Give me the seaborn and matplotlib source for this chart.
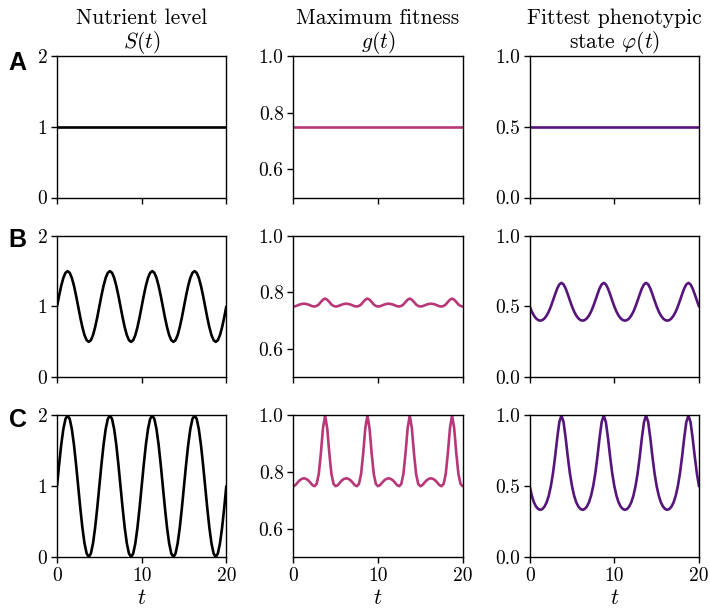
import matplotlib
matplotlib.use('Agg')
import matplotlib.pyplot as plt
import seaborn as sns

# sample times (step 0.25)
t = [0.0, 0.25, 0.5, 0.75, 1.0, 1.25, 1.5, 1.75, 2.0, 2.25, 2.5, 2.75, 3.0, 3.25, 3.5, 3.75, 4.0, 4.25, 4.5, 4.75,
     5.0, 5.25, 5.5, 5.75, 6.0, 6.25, 6.5, 6.75, 7.0, 7.25, 7.5, 7.75, 8.0, 8.25, 8.5, 8.75, 9.0, 9.25, 9.5, 9.75,
     10.0, 10.25, 10.5, 10.75, 11.0, 11.25, 11.5, 11.75, 12.0, 12.25, 12.5, 12.75, 13.0, 13.25, 13.5, 13.75, 14.0, 14.25, 14.5, 14.75,
     15.0, 15.25, 15.5, 15.75, 16.0, 16.25, 16.5, 16.75, 17.0, 17.25, 17.5, 17.75, 18.0, 18.25, 18.5, 18.75, 19.0, 19.25, 19.5, 19.75,
     20.0]

# row A: constant environment
S_A = [1.0] * len(t)
g_A = [0.75] * len(t)
phi_A = [0.5] * len(t)

# row B: mild oscillation
S_B = [1.0, 1.155, 1.294, 1.405, 1.476, 1.5, 1.476, 1.405, 1.294, 1.155, 1.0, 0.845, 0.706, 0.595, 0.524, 0.5, 0.524, 0.595, 0.706, 0.845,
       1.0, 1.155, 1.294, 1.405, 1.476, 1.5, 1.476, 1.405, 1.294, 1.155, 1.0, 0.845, 0.706, 0.595, 0.524, 0.5, 0.524, 0.595, 0.706, 0.845,
       1.0, 1.155, 1.294, 1.405, 1.476, 1.5, 1.476, 1.405, 1.294, 1.155, 1.0, 0.845, 0.706, 0.595, 0.524, 0.5, 0.524, 0.595, 0.706, 0.845,
       1.0, 1.155, 1.294, 1.405, 1.476, 1.5, 1.476, 1.405, 1.294, 1.155, 1.0, 0.845, 0.706, 0.595, 0.524, 0.5, 0.524, 0.595, 0.706, 0.845,
       1.0]
g_B = [0.75, 0.751, 0.754, 0.757, 0.759, 0.76, 0.759, 0.757, 0.754, 0.751, 0.75, 0.752, 0.757, 0.766, 0.774, 0.778, 0.774, 0.766, 0.757, 0.752,
       0.75, 0.751, 0.754, 0.757, 0.759, 0.76, 0.759, 0.757, 0.754, 0.751, 0.75, 0.752, 0.757, 0.766, 0.774, 0.778, 0.774, 0.766, 0.757, 0.752,
       0.75, 0.751, 0.754, 0.757, 0.759, 0.76, 0.759, 0.757, 0.754, 0.751, 0.75, 0.752, 0.757, 0.766, 0.774, 0.778, 0.774, 0.766, 0.757, 0.752,
       0.75, 0.751, 0.754, 0.757, 0.759, 0.76, 0.759, 0.757, 0.754, 0.751, 0.75, 0.752, 0.757, 0.766, 0.774, 0.778, 0.774, 0.766, 0.757, 0.752,
       0.75]
phi_B = [0.5, 0.464, 0.436, 0.416, 0.404, 0.4, 0.404, 0.416, 0.436, 0.464, 0.5, 0.542, 0.586, 0.627, 0.656, 0.667, 0.656, 0.627, 0.586, 0.542,
         0.5, 0.464, 0.436, 0.416, 0.404, 0.4, 0.404, 0.416, 0.436, 0.464, 0.5, 0.542, 0.586, 0.627, 0.656, 0.667, 0.656, 0.627, 0.586, 0.542,
         0.5, 0.464, 0.436, 0.416, 0.404, 0.4, 0.404, 0.416, 0.436, 0.464, 0.5, 0.542, 0.586, 0.627, 0.656, 0.667, 0.656, 0.627, 0.586, 0.542,
         0.5, 0.464, 0.436, 0.416, 0.404, 0.4, 0.404, 0.416, 0.436, 0.464, 0.5, 0.542, 0.586, 0.627, 0.656, 0.667, 0.656, 0.627, 0.586, 0.542,
         0.5]

# row C: strong oscillation
S_C = [1.0, 1.309, 1.588, 1.809, 1.951, 2.0, 1.951, 1.809, 1.588, 1.309, 1.0, 0.691, 0.412, 0.191, 0.049, 0.0, 0.049, 0.191, 0.412, 0.691,
       1.0, 1.309, 1.588, 1.809, 1.951, 2.0, 1.951, 1.809, 1.588, 1.309, 1.0, 0.691, 0.412, 0.191, 0.049, 0.0, 0.049, 0.191, 0.412, 0.691,
       1.0, 1.309, 1.588, 1.809, 1.951, 2.0, 1.951, 1.809, 1.588, 1.309, 1.0, 0.691, 0.412, 0.191, 0.049, 0.0, 0.049, 0.191, 0.412, 0.691,
       1.0, 1.309, 1.588, 1.809, 1.951, 2.0, 1.951, 1.809, 1.588, 1.309, 1.0, 0.691, 0.412, 0.191, 0.049, 0.0, 0.049, 0.191, 0.412, 0.691,
       1.0]
g_C = [0.75, 0.754, 0.763, 0.771, 0.776, 0.778, 0.776, 0.771, 0.763, 0.754, 0.75, 0.758, 0.793, 0.866, 0.955, 1.0, 0.955, 0.866, 0.793, 0.758,
       0.75, 0.754, 0.763, 0.771, 0.776, 0.778, 0.776, 0.771, 0.763, 0.754, 0.75, 0.758, 0.793, 0.866, 0.955, 1.0, 0.955, 0.866, 0.793, 0.758,
       0.75, 0.754, 0.763, 0.771, 0.776, 0.778, 0.776, 0.771, 0.763, 0.754, 0.75, 0.758, 0.793, 0.866, 0.955, 1.0, 0.955, 0.866, 0.793, 0.758,
       0.75, 0.754, 0.763, 0.771, 0.776, 0.778, 0.776, 0.771, 0.763, 0.754, 0.75, 0.758, 0.793, 0.866, 0.955, 1.0, 0.955, 0.866, 0.793, 0.758,
       0.75]
phi_C = [0.5, 0.433, 0.386, 0.356, 0.339, 0.333, 0.339, 0.356, 0.386, 0.433, 0.5, 0.591, 0.708, 0.84, 0.953, 1.0, 0.953, 0.84, 0.708, 0.591,
         0.5, 0.433, 0.386, 0.356, 0.339, 0.333, 0.339, 0.356, 0.386, 0.433, 0.5, 0.591, 0.708, 0.84, 0.953, 1.0, 0.953, 0.84, 0.708, 0.591,
         0.5, 0.433, 0.386, 0.356, 0.339, 0.333, 0.339, 0.356, 0.386, 0.433, 0.5, 0.591, 0.708, 0.84, 0.953, 1.0, 0.953, 0.84, 0.708, 0.591,
         0.5, 0.433, 0.386, 0.356, 0.339, 0.333, 0.339, 0.356, 0.386, 0.433, 0.5, 0.591, 0.708, 0.84, 0.953, 1.0, 0.953, 0.84, 0.708, 0.591,
         0.5]

row_labels = ['A', 'B', 'C']
col_titles = ['Nutrient level\n$S(t)$', 'Maximum fitness\n$g(t)$', 'Fittest phenotypic\nstate $\\varphi(t)$']
col_colors = ['black', '#b73779', '#56147d']
col_ylims = [(0, 2), (0.5, 1.0), (0.0, 1.0)]
col_yticks = [[0, 1, 2], [0.6, 0.8, 1.0], [0.0, 0.5, 1.0]]
col_yticklabels = [['0', '1', '2'], ['0.6', '0.8', '1.0'], ['0.0', '0.5', '1.0']]
x_ticks = [0, 10, 20]

data = [[S_A, g_A, phi_A],
        [S_B, g_B, phi_B],
        [S_C, g_C, phi_C]]

sns.set_style('ticks')
plt.rcParams['font.family'] = 'serif'
plt.rcParams['font.serif'] = ['cmr10', 'DejaVu Serif']
plt.rcParams['mathtext.fontset'] = 'cm'
plt.rcParams['axes.formatter.use_mathtext'] = True
plt.rcParams['text.color'] = 'black'
plt.rcParams['axes.labelcolor'] = 'black'
plt.rcParams['xtick.color'] = 'black'
plt.rcParams['ytick.color'] = 'black'

fig, axes = plt.subplots(3, 3, figsize=(7.1, 6.13), dpi=100)
fig.subplots_adjust(left=0.0803, right=0.9845, top=0.9086, bottom=0.0914,
                    wspace=0.396, hspace=0.27)

for i in range(3):
    for j in range(3):
        ax = axes[i, j]
        sns.lineplot(x=t, y=data[i][j], ax=ax, color=col_colors[j], linewidth=1.9)
        ax.set_xlim(0, 20)
        ax.set_ylim(*col_ylims[j])
        ax.set_xticks(x_ticks)
        ax.set_yticks(col_yticks[j])
        ax.set_yticklabels(col_yticklabels[j], fontsize=14)
        for side in ['top', 'right', 'left', 'bottom']:
            ax.spines[side].set_visible(True)
            ax.spines[side].set_color('black')
            ax.spines[side].set_linewidth(1.0)
        ax.tick_params(colors='black', length=4, width=1, pad=3)
        if i == 2:
            ax.set_xticklabels([str(v) for v in x_ticks], fontsize=14)
            ax.set_xlabel('$t$', fontsize=16, labelpad=3)
        else:
            ax.set_xticklabels([])
        if i == 0:
            ax.set_title(col_titles[j], fontsize=15.5, pad=5, linespacing=1.05, color='black')

label_y = [0.897, 0.608, 0.315]
for lab, y in zip(row_labels, label_y):
    fig.text(0.012, y, lab, fontsize=18, fontweight='bold', family='Liberation Sans',
             ha='left', va='center', color='black')

fig.savefig('out.png', dpi=100)
